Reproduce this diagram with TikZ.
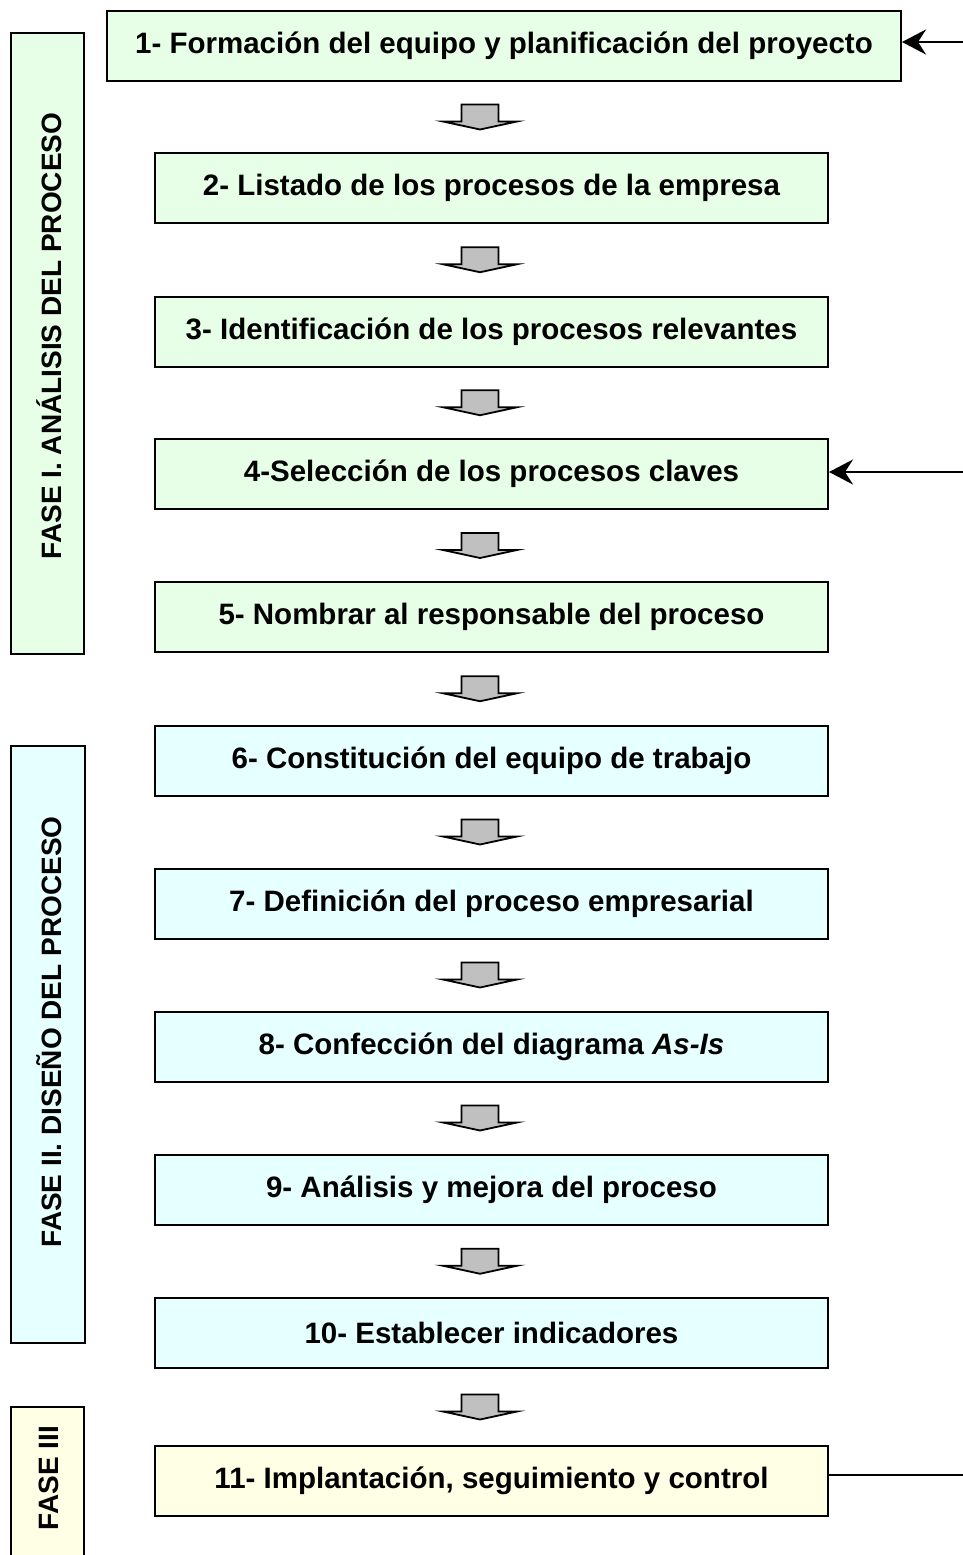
\documentclass[tikz,border=0pt]{standalone}
\usepackage{fontspec}
\setmainfont{Liberation Sans}
\usetikzlibrary{arrows.meta,calc}
\definecolor{gI}{HTML}{E6FFE6}
\definecolor{gII}{HTML}{E6FFFF}
\definecolor{gIII}{HTML}{FFFFE6}
\definecolor{arrgray}{HTML}{C0C0C0}
\tikzset{
  stepbox/.style={draw=black, line width=2pt, minimum height=70pt, inner sep=0pt,
    align=center, font=\fontsize{29.5}{33}\selectfont\bfseries},
  phasebox/.style={draw=black, line width=2pt, inner sep=0pt},
  phasetext/.style={rotate=90, inner sep=0pt, font=\fontsize{28}{32}\selectfont\bfseries},
  sidearrow/.style={line width=2pt, -{Stealth[length=24pt,width=25pt,inset=8pt]}},
  sideline/.style={line width=2pt},
  blockarrow/.pic={\draw[line width=1.8pt, fill=arrgray, line join=miter]
    (-18.5,-12.5) -- (18.5,-12.5) -- (18.5,4.5) -- (37,4.5) -- (0,12.5)
    -- (-37,4.5) -- (-18.5,4.5) -- cycle;}
}
\begin{document}
\begin{tikzpicture}[x=1pt,y=-1pt]
\useasboundingbox (0,0) rectangle (963,1555);
% phase boxes
\node[phasebox, fill=gI, minimum width=73pt, minimum height=621pt] (f1) at (47.5,343.5) {};
\node[phasetext] (f1t) at (49,336) {FASE I. ANÁLISIS DEL PROCESO};
\node[phasebox, fill=gII, minimum width=74pt, minimum height=597pt] (f2) at (48,1044.5) {};
\node[phasetext] (f2t) at (49,1032) {FASE II. DISEÑO DEL PROCESO};
\node[phasebox, fill=gIII, minimum width=73pt, minimum height=180pt] (f3) at (47.5,1497) {};
\node[phasetext] (f3t) at (49,1478) {FASE III};
% step boxes
\node[stepbox, fill=gI, minimum width=794pt] (b1) at (504,46) {1- Formación del equipo y planificación del proyecto};
\node[stepbox, fill=gI, minimum width=673pt] (b2) at (491.5,188) {2- Listado de los procesos de la empresa};
\node[stepbox, fill=gI, minimum width=673pt] (b3) at (491.5,331.5) {3- Identificación de los procesos relevantes};
\node[stepbox, fill=gI, minimum width=673pt] (b4) at (491.5,474) {4-Selección de los procesos claves};
\node[stepbox, fill=gI, minimum width=673pt] (b5) at (491.5,617) {5- Nombrar al responsable del proceso};
\node[stepbox, fill=gII, minimum width=673pt] (b6) at (491.5,760.5) {6- Constitución del equipo de trabajo};
\node[stepbox, fill=gII, minimum width=673pt] (b7) at (491.5,903.5) {7- Definición del proceso empresarial};
\node[stepbox, fill=gII, minimum width=673pt] (b8) at (491.5,1046.5) {8- Confección del diagrama \textit{As-Is}};
\node[stepbox, fill=gII, minimum width=673pt] (b9) at (491.5,1189.5) {9- Análisis y mejora del proceso};
\node[stepbox, fill=gII, minimum width=673pt] (b10) at (491.5,1333) {10- Establecer indicadores};
\node[stepbox, fill=gIII, minimum width=673pt] (b11) at (491.5,1481) {11- Implantación, seguimiento y control};
% block arrows between steps
\coordinate (ax) at (480,0);
\foreach \a/\b [count=\i] in {b1/b2,b2/b3,b3/b4,b4/b5,b5/b6,b6/b7,b7/b8,b8/b9,b9/b10,b10/b11}{
  \coordinate (m\i) at ($(\a.south)!0.5!(\b.north)$);
  \path (ax |- m\i) pic {blockarrow};
}
% side arrows
\coordinate (e1) at (963,42);
\coordinate (e4) at (963,472);
\coordinate (e11) at (963,1475);
\draw[sidearrow] (e1) -- (e1 -| b1.east);
\draw[sidearrow] (e4) -- (e4 -| b4.east);
\draw[sideline] (b11.east |- e11) -- (e11);
\end{tikzpicture}
\end{document}
